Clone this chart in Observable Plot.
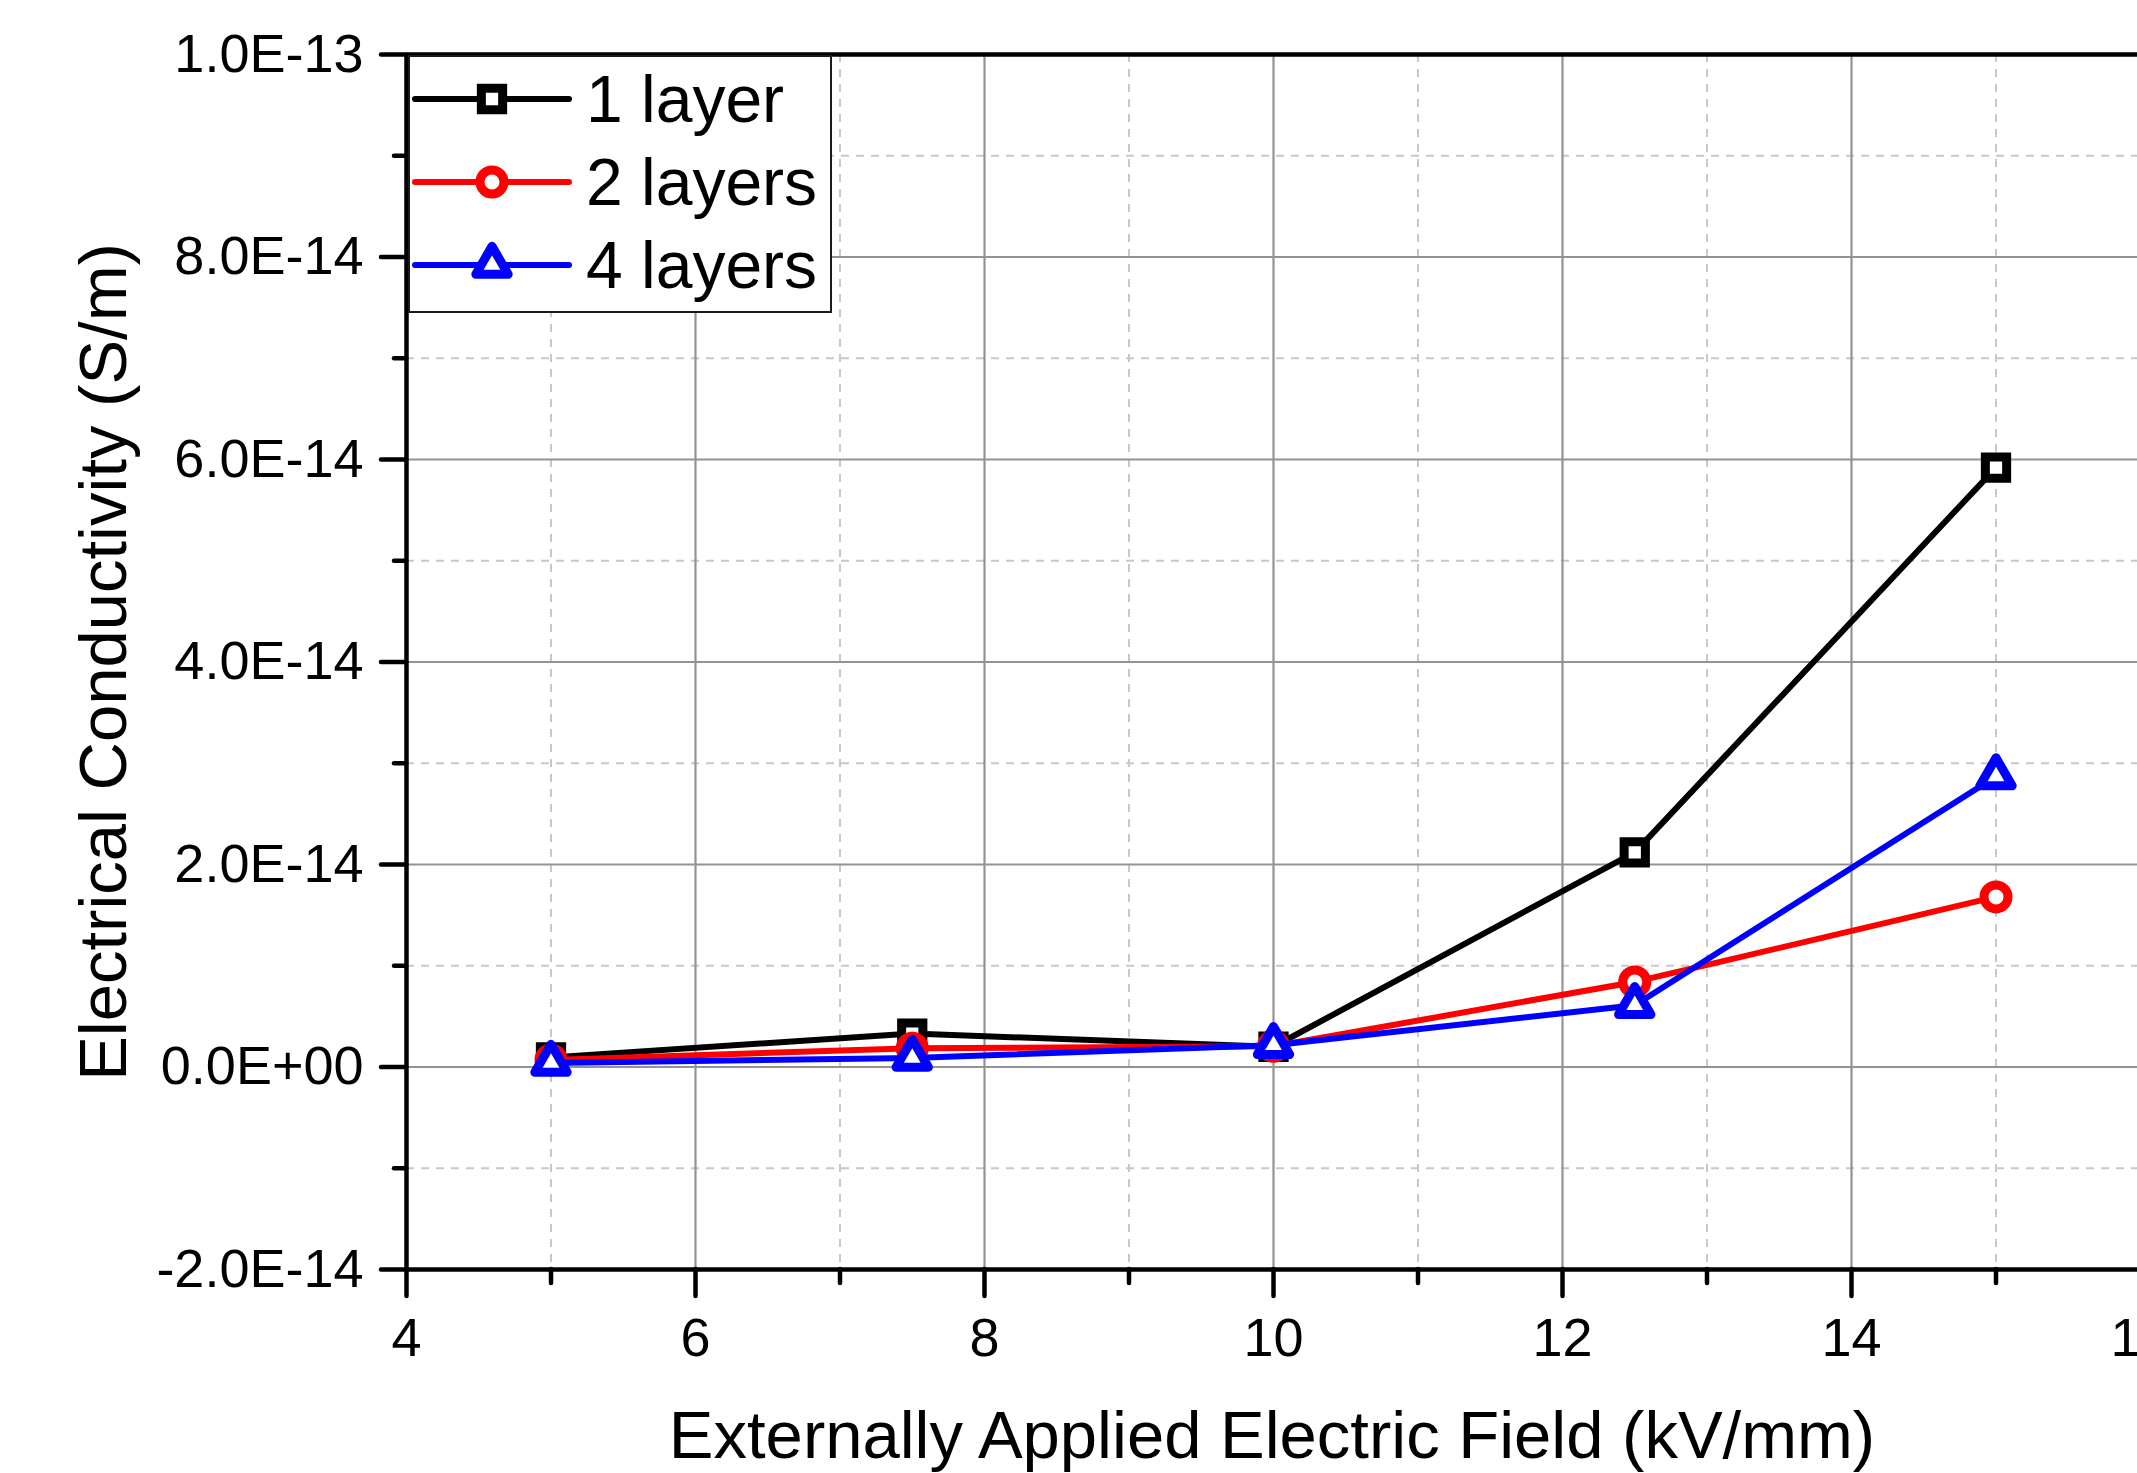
<!DOCTYPE html>
<html><head><meta charset="utf-8">
<script src="https://cdn.jsdelivr.net/npm/d3@7"></script>
<script src="https://cdn.jsdelivr.net/npm/@observablehq/plot@0.6"></script>
<style>
html,body{margin:0;padding:0;background:#fff;overflow:hidden;}
#wrap{position:relative;width:2137px;height:1473px;font-family:"Liberation Sans",Arial,sans-serif;}
</style></head><body><div id="wrap"></div>
<script>
// ---- data ----
const field = [5, 7.5, 10, 12.5, 15];
const layer1 = [9.5e-16, 3.3e-15, 2.0e-15, 2.12e-14, 5.92e-14];
const layer2 = [7.0e-16, 1.85e-15, 2.05e-15, 8.4e-15, 1.68e-14];
const layer4 = [4.0e-16, 9.0e-16, 2.15e-15, 6.1e-15, 2.87e-14];
const seriesNames = ["1 layer", "2 layers", "4 layers"];
const seriesColors = ["#000000", "#ff0000", "#0000ff"];
const seriesSymbols = ["square", "circle", "triangle"];
const xMajorTicks = [4, 6, 8, 10, 12, 14, 16];
const xMinorTicks = [5, 7, 9, 11, 13, 15];
const yMajorTicks = [-2e-14, 0, 2e-14, 4e-14, 6e-14, 8e-14, 1e-13];
const yMinorTicks = [-1e-14, 1e-14, 3e-14, 5e-14, 7e-14, 9e-14];
const xTitle = "Externally Applied Electric Field (kV/mm)";
const yTitle = "Electrical Conductivity (S/m)";

const seriesValues = [layer1, layer2, layer4];
const rows = seriesValues.flatMap((vals, s) => vals.map((v, i) => ({x: field[i], y: v, s})));

function sci(v) {
  if (Math.abs(v) < 1e-30) return "0.0E+00";
  const [m, e] = v.toExponential(1).split("e");
  const n = parseInt(e, 10);
  return m + "E" + (n < 0 ? "-" : "+") + String(Math.abs(n)).padStart(2, "0");
}

const W = 2137, H = 1473, mL = 406, mT = 54, mB = 204;
const font = '"Liberation Sans", Arial, sans-serif';
const R = 12, SW = 9, LW = 6;

const seriesMarks = seriesValues.flatMap((vals, s) => {
  const d = rows.filter(r => r.s === s);
  return [
    Plot.line(d, {x: "x", y: "y", stroke: seriesColors[s], strokeWidth: LW, strokeLinejoin: "round"}),
    Plot.dot(d, {x: "x", y: "y", symbol: seriesSymbols[s], r: R, stroke: seriesColors[s], fill: "white",
      strokeWidth: SW, strokeLinejoin: s === 0 ? "miter" : "round"})
  ];
});

const frameW = 4.5;
const plot = Plot.plot({
  width: W, height: H,
  marginLeft: mL, marginTop: mT, marginBottom: mB, marginRight: 0,
  x: {domain: [xMajorTicks[0], xMajorTicks[xMajorTicks.length - 1]], range: [mL, 2140]},
  y: {domain: [yMajorTicks[0], yMajorTicks[yMajorTicks.length - 1]], range: [H - mB, mT]},
  style: {fontFamily: font, background: "white", color: "black", overflow: "hidden"},
  marks: [
    Plot.gridX(xMinorTicks, {stroke: "#c8c8c8", strokeOpacity: 1, strokeWidth: 2, strokeDasharray: "8,7"}),
    Plot.gridY(yMinorTicks, {stroke: "#c8c8c8", strokeOpacity: 1, strokeWidth: 2, strokeDasharray: "8,7"}),
    Plot.gridX(xMajorTicks, {stroke: "#939393", strokeOpacity: 1, strokeWidth: 2.2}),
    Plot.gridY(yMajorTicks, {stroke: "#939393", strokeOpacity: 1, strokeWidth: 2.2}),
    ...seriesMarks,
    Plot.ruleX([xMajorTicks[0]], {stroke: "black", strokeWidth: frameW}),
    Plot.ruleY([yMajorTicks[0], yMajorTicks[yMajorTicks.length - 1]], {stroke: "black", strokeWidth: frameW}),
    Plot.axisX(xMajorTicks, {tickSize: 27, tickPadding: 21, fontSize: 54, strokeWidth: frameW,
      strokeLinecap: "round", label: null, tickFormat: d => String(d)}),
    Plot.axisX(xMinorTicks, {tickSize: 14, tickPadding: 0, strokeWidth: frameW, strokeLinecap: "round",
      label: null, tickFormat: () => ""}),
    Plot.axisY(yMajorTicks, {tickSize: 25, tickPadding: 18, fontSize: 54, strokeWidth: frameW,
      strokeLinecap: "round", label: null, tickFormat: sci}),
    Plot.axisY(yMinorTicks, {tickSize: 12, tickPadding: 0, strokeWidth: frameW, strokeLinecap: "round",
      label: null, tickFormat: () => ""}),
    Plot.text([xTitle], {text: d => d, frameAnchor: "bottom", textAnchor: "middle", lineAnchor: "middle",
      dy: 167, fontSize: 67, fill: "black"}),
    Plot.text([yTitle], {text: d => d, frameAnchor: "left", textAnchor: "middle", lineAnchor: "middle",
      dx: -302, rotate: -90, fontSize: 67, fill: "black"})
  ]
});
const wrap = document.getElementById("wrap");
wrap.appendChild(plot);

// ---- legend overlay ----
const leg = d3.select(wrap).append("svg")
  .attr("width", W).attr("height", H)
  .style("position", "absolute").style("left", "0px").style("top", "0px")
  .style("font-family", font);
leg.append("rect").attr("x", 409).attr("y", 56).attr("width", 422).attr("height", 256)
  .attr("fill", "white").attr("stroke", "#1a1a1a").attr("stroke-width", 2);
const rowY = [99, 182, 265];
seriesNames.forEach((name, s) => {
  const g = leg.append("g").attr("transform", `translate(0,${rowY[s]})`);
  g.append("line").attr("x1", 415).attr("x2", 569).attr("y1", 0).attr("y2", 0)
    .attr("stroke", seriesColors[s]).attr("stroke-width", LW).attr("stroke-linecap", "round");
  if (seriesSymbols[s] === "circle") {
    g.append("circle").attr("cx", 492).attr("cy", 0).attr("r", R)
      .attr("fill", "white").attr("stroke", seriesColors[s]).attr("stroke-width", SW);
  } else {
    const type = seriesSymbols[s] === "square" ? d3.symbolSquare : d3.symbolTriangle;
    g.append("path").attr("transform", "translate(492,0)")
      .attr("d", d3.symbol().type(type).size(Math.PI * R * R)())
      .attr("fill", "white").attr("stroke", seriesColors[s]).attr("stroke-width", SW)
      .attr("stroke-linejoin", s === 0 ? "miter" : "round");
  }
  g.append("text").attr("x", 586).attr("y", 23).attr("font-size", 66).attr("fill", "black").text(name);
});
</script></body></html>
